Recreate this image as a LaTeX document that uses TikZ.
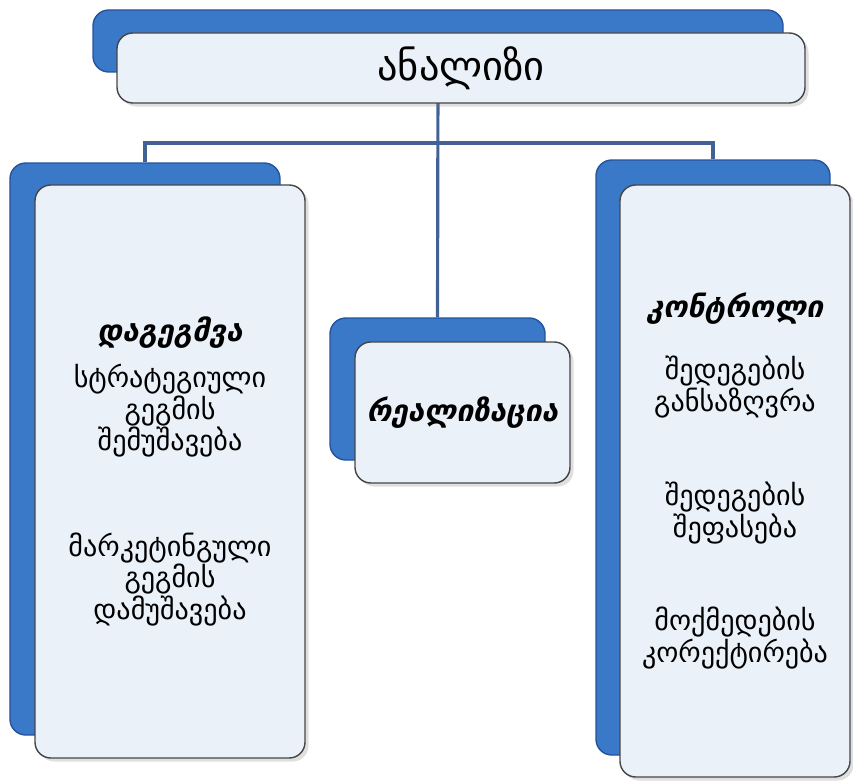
\documentclass[tikz,border=0pt]{standalone}
\usepackage{fontspec}
\setmainfont{DejaVu Sans}
\usetikzlibrary{positioning,shadows,backgrounds}
\definecolor{boxblue}{RGB}{58,120,200}
\definecolor{boxblueD}{RGB}{38,84,156}
\definecolor{boxface}{RGB}{235,241,249}
\definecolor{connblue}{RGB}{66,98,150}
\newcommand{\ttltext}[1]{{\fontsize{17}{18}\selectfont\bfseries\itshape #1}}

\begin{document}
\begin{tikzpicture}[font=\fontsize{16}{18}\selectfont,
    back/.style={draw=boxblueD, fill=boxblue, rounded corners=9pt,
                 line width=0.8pt},
    face/.style={draw=gray!55!black, fill=boxface, rounded corners=9pt,
                 line width=0.8pt, align=center, inner sep=0pt,
                 drop shadow={opacity=0.25, shadow xshift=2pt, shadow yshift=-2pt}},
    conn/.style={draw=connblue, line width=1.8pt}]

  \useasboundingbox (0,0) rectangle (17.06,-15.62);

  %% Top box
  \node[back, minimum width=13.8cm, minimum height=1.24cm] (anaB) at (8.76,-0.82) {};
  \node[face, minimum width=13.76cm, minimum height=1.4cm] (ana) at (9.22,-1.36)
    {\fontsize{23}{24}\selectfont ანალიზი};

  %% Left column
  \node[back, minimum width=5.4cm, minimum height=11.44cm] (planB) at (2.9,-8.98) {};
  \node[face, minimum width=5.4cm, minimum height=11.46cm] (plan) at (3.4,-9.43)
    {\ttltext{დაგეგმვა}\\[8pt]
     სტრატეგიული\\ გეგმის\\ შემუშავება\\[42pt]
     მარკეტინგული\\ გეგმის\\ დამუშავება};

  %% Middle column
  \node[back, minimum width=4.3cm, minimum height=2.84cm] (realB) at (8.75,-7.78) {};
  \node[face, minimum width=4.3cm, minimum height=2.82cm] (real) at (9.25,-8.25)
    {\ttltext{რეალიზაცია}};

  %% Right column
  \node[back, minimum width=4.68cm, minimum height=11.9cm] (contB) at (14.26,-9.15) {};
  \node[face, minimum width=4.6cm, minimum height=11.84cm] (cont) at (14.7,-9.62)
    {\ttltext{კონტროლი}\\[17pt]
     შედეგების\\ განსაზღვრა\\[36pt]
     შედეგების\\ შეფასება\\[35pt]
     მოქმედების\\ კორექტირება};

  %% Connectors
  \coordinate (bus) at (0,-2.86);
  \begin{pgfonlayer}{background}
    \draw[conn] (anaB.south) -- (realB.north);
    \draw[conn] (anaB.south |- bus) -| (planB.north);
    \draw[conn] (anaB.south |- bus) -| (contB.north);
  \end{pgfonlayer}
\end{tikzpicture}
\end{document}
